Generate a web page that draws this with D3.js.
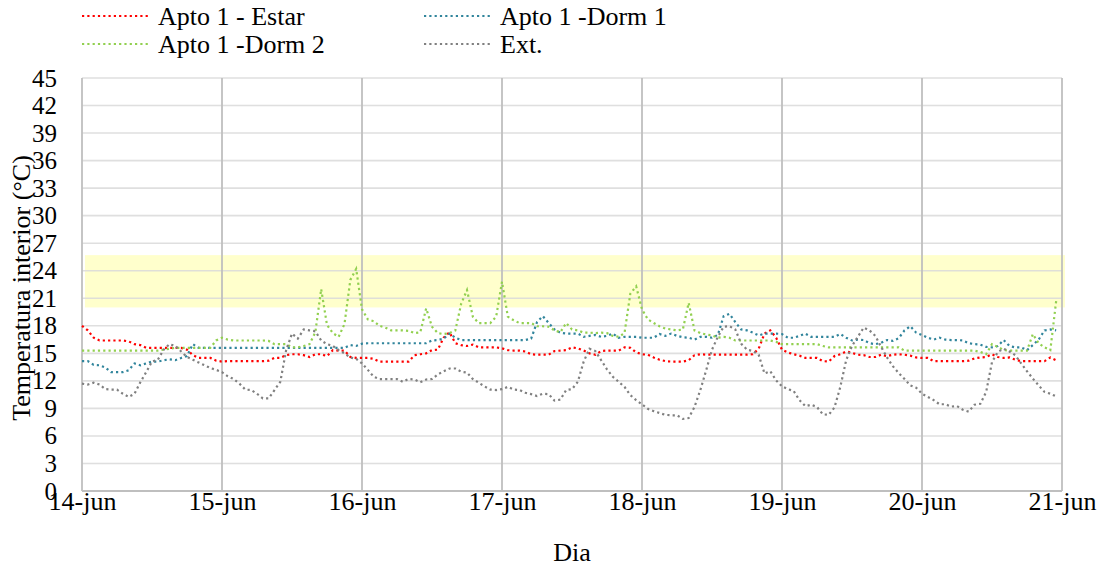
<!DOCTYPE html>
<html lang="es">
<head>
<meta charset="UTF-8">
<title>Temperatura interior - Apto 1</title>
<script src="https://d3js.org/d3.v7.min.js"></script>
<style>
    body { margin: 0; background: #fff; }
    svg { display: block; }
    text { font-family: "Liberation Serif", "Times New Roman", serif; fill: #000; }
</style>
</head>
<body>
<svg width="1101" height="567"></svg>
<script>
    // hourly readings, 14-jun 00:00 to 20-jun 23:00
    const estar = [
        18.0,17.5,16.7,16.4,16.4,16.4,16.4,16.4,16.3,16.0,15.9,15.6,15.6,15.6,15.6,15.6,15.6,15.6,15.4,14.8,14.5,14.5,14.5,14.2,
        14.1,14.15,14.15,14.15,14.15,14.15,14.15,14.15,14.2,14.5,14.5,14.8,14.9,14.9,14.8,14.6,14.9,14.9,14.7,15.35,15.3,15.3,14.6,14.5,
        14.5,14.5,14.4,14.1,14.1,14.1,14.1,14.1,14.1,14.8,14.9,15.0,15.35,15.4,16.7,17.3,16.1,15.9,15.8,15.95,15.65,15.65,15.65,15.65,
        15.55,15.35,15.3,15.3,15.2,14.9,14.85,14.85,14.85,15.25,15.3,15.35,15.65,15.55,15.3,15.0,14.85,15.25,15.3,15.3,15.3,15.65,15.6,15.1,
        14.9,14.85,14.55,14.3,14.15,14.1,14.1,14.1,14.25,14.8,14.9,14.85,14.85,14.85,14.85,14.85,14.85,14.85,14.85,14.9,15.5,17.15,17.5,16.7,
        15.4,15.1,14.9,14.75,14.5,14.5,14.5,14.15,14.1,14.7,14.9,15.2,15.05,14.85,14.8,14.6,14.6,14.85,14.7,14.85,14.9,14.85,14.75,14.55,
        14.5,14.5,14.15,14.15,14.15,14.15,14.15,14.15,14.2,14.45,14.55,14.6,14.9,14.6,14.5,14.55,14.3,14.15,14.15,14.15,14.15,14.15,14.55,14.25
    ];
    const dorm1 = [
        14.15,14.15,13.75,13.7,13.45,12.95,12.95,12.95,13.15,13.9,13.7,13.9,14.1,14.1,14.25,14.35,14.25,14.5,14.7,16.0,15.6,15.6,15.6,15.6,
        15.6,15.6,15.6,15.6,15.6,15.6,15.6,15.6,15.6,15.6,15.6,15.6,15.6,15.6,15.6,15.6,15.6,15.6,15.6,15.6,15.6,15.6,15.9,15.8,
        16.05,16.1,16.1,16.1,16.1,16.1,16.1,16.1,16.1,16.1,16.1,16.1,16.4,16.45,16.6,17.15,16.7,16.45,16.45,16.45,16.45,16.45,16.45,16.45,
        16.45,16.45,16.45,16.45,16.45,16.6,18.4,19.05,18.3,17.6,17.25,17.15,17.15,17.15,16.8,16.9,17.0,16.8,16.9,17.15,16.7,16.8,16.8,16.8,
        16.7,16.7,16.7,17.1,16.9,17.15,16.9,16.75,16.7,16.5,16.8,16.8,16.7,17.0,19.05,19.3,18.4,17.6,17.5,17.25,16.95,17.15,17.15,17.15,
        17.1,16.7,16.7,16.9,17.15,16.8,16.8,16.8,16.8,16.8,17.1,16.7,16.4,16.5,16.45,16.1,16.0,16.15,16.45,16.35,16.65,17.5,17.95,17.25,
        17.0,16.7,16.5,16.7,16.5,16.45,16.45,16.4,16.1,16.0,15.95,15.7,15.65,15.8,16.45,15.8,15.65,15.65,15.35,15.9,16.5,17.5,17.6,17.5
    ];
    const dorm2 = [
        15.3,15.3,15.3,15.3,15.3,15.3,15.3,15.3,15.3,15.3,15.3,15.3,15.3,15.3,15.4,15.5,15.6,15.6,15.6,15.6,15.6,15.6,15.6,16.4,
        16.7,16.5,16.4,16.4,16.4,16.4,16.4,16.4,16.35,16.0,16.0,16.0,15.65,15.65,15.8,16.0,17.3,22.0,18.1,17.2,16.8,18.2,23.0,24.2,
        19.8,18.7,18.5,18.0,17.8,17.5,17.5,17.5,17.45,17.2,17.3,19.9,17.9,17.2,17.1,17.2,17.5,20.4,21.9,19.0,18.3,18.3,18.3,19.0,
        22.8,19.0,18.6,18.3,18.3,18.3,17.95,17.95,17.9,17.5,17.3,18.3,17.6,17.5,17.25,17.25,17.2,17.25,17.2,16.9,16.8,17.2,21.5,22.3,
        19.8,18.7,18.3,17.95,17.7,17.6,17.5,17.6,20.5,17.5,17.2,17.05,16.95,16.7,16.8,16.7,16.4,16.4,16.4,16.4,16.4,16.4,16.4,16.25,
        16.0,16.0,16.0,16.0,16.0,16.0,16.0,15.8,15.65,15.65,15.65,15.65,15.65,15.65,15.65,15.65,15.65,15.65,15.65,15.65,15.65,15.3,15.3,15.3,
        15.3,15.3,15.3,15.3,15.3,15.3,15.3,15.3,15.3,15.3,15.15,14.9,16.0,15.7,15.35,15.3,15.3,15.3,15.3,17.1,16.1,15.65,15.35,20.7
    ];
    const ext = [
        11.7,11.6,11.8,11.6,11.1,11.05,11.05,10.6,10.25,10.6,11.85,12.95,14.1,14.3,15.4,16.0,15.8,15.2,14.6,14.3,14.0,13.7,13.4,13.2,
        12.95,12.5,12.2,11.7,11.05,11.0,10.6,10.1,10.1,11.0,11.9,15.35,17.15,16.6,17.6,17.5,17.4,16.4,16.0,15.8,15.35,15.0,14.55,14.4,
        13.9,13.2,12.45,12.2,12.2,12.2,12.2,11.9,12.2,12.15,11.85,12.15,12.2,12.7,13.05,13.35,13.35,13.0,12.9,12.2,11.8,11.4,11.05,11.0,
        11.1,11.35,11.05,11.0,10.7,10.55,10.35,10.6,10.55,9.85,9.95,11.0,11.1,11.9,14.1,15.5,15.25,14.25,13.25,12.45,11.9,11.35,10.45,9.9,
        9.45,8.95,8.7,8.5,8.3,8.25,8.25,7.85,7.95,9.15,11.0,13.15,15.4,16.8,17.9,17.95,17.6,16.05,15.4,15.25,14.85,12.8,13.05,12.05,
        11.4,11.1,10.9,9.9,9.25,9.4,9.15,8.35,8.3,9.1,11.35,14.25,15.8,16.8,17.8,17.5,16.9,15.7,14.55,13.6,12.85,12.2,11.5,11.25,
        10.6,10.25,9.9,9.45,9.45,9.2,9.25,8.85,8.65,9.4,9.5,10.8,14.05,15.15,15.5,15.2,14.8,13.9,13.05,12.25,11.5,10.8,10.6,10.3
    ];
    const comfortBand = [20, 25.7];
    const yTicks = d3.range(0, 46, 3);
    const startDay = new Date(Date.UTC(2023, 5, 14));
    const endDay = new Date(Date.UTC(2023, 5, 21));

    const series = [
        { name: "Apto 1 - Estar", values: estar, color: "#ff0000" },
        { name: "Apto 1 -Dorm 1", values: dorm1, color: "#31859c" },
        { name: "Apto 1 -Dorm 2", values: dorm2, color: "#92d050" },
        { name: "Ext.", values: ext, color: "#808080" }
    ];

    const svg = d3.select("svg");
    const margin = { left: 82, right: 39, top: 78, bottom: 76 };
    const width = 1101, height = 567;
    const fontSize = 26;

    const x = d3.scaleUtc()
        .domain([startDay, endDay])
        .range([margin.left, width - margin.right]);
    const y = d3.scaleLinear()
        .domain([0, 45])
        .range([height - margin.bottom, margin.top]);

    const hourAt = i => d3.utcHour.offset(startDay, i);

    // comfort band
    svg.append("rect")
        .attr("x", x(startDay) + 3)
        .attr("y", y(comfortBand[1]))
        .attr("width", x(endDay) - x(startDay))
        .attr("height", y(comfortBand[0]) - y(comfortBand[1]))
        .attr("fill", "#ffffcc");

    // horizontal grid
    svg.append("g")
        .selectAll("line")
        .data(yTicks.filter(d => d > 0))
        .enter().append("line")
        .attr("x1", x(startDay))
        .attr("x2", x(endDay))
        .attr("y1", d => y(d))
        .attr("y2", d => y(d))
        .attr("stroke", "#d9d9d9")
        .attr("stroke-opacity", 0.85)
        .attr("stroke-width", 1.6);

    // vertical grid (one per day)
    const days = d3.utcDay.range(startDay, d3.utcDay.offset(endDay, 1));
    svg.append("g")
        .selectAll("line")
        .data(days)
        .enter().append("line")
        .attr("x1", d => x(d))
        .attr("x2", d => x(d))
        .attr("y1", y(45))
        .attr("y2", y(0))
        .attr("stroke", "#bfbfbf")
        .attr("stroke-width", 1.8);

    // bottom axis line
    svg.append("line")
        .attr("x1", x(startDay))
        .attr("x2", x(endDay))
        .attr("y1", y(0))
        .attr("y2", y(0))
        .attr("stroke", "#bfbfbf")
        .attr("stroke-width", 1.8);

    // y tick labels
    const yAxis = d3.axisLeft(y).tickValues(yTicks).tickSize(0).tickPadding(25);
    svg.append("g")
        .attr("transform", `translate(${margin.left},0)`)
        .call(yAxis)
        .call(g => g.select(".domain").remove())
        .selectAll("text")
        .attr("font-size", 25)
        .attr("fill", "#000");

    // x tick labels
    const fmt = d3.utcFormat("%d");
    const xAxis = d3.axisBottom(x).tickValues(days).tickSize(0).tickPadding(1)
        .tickFormat(d => fmt(d) + "-jun");
    svg.append("g")
        .attr("transform", `translate(0,${y(0)})`)
        .call(xAxis)
        .call(g => g.select(".domain").remove())
        .selectAll("text")
        .attr("font-size", fontSize)
        .attr("fill", "#000");

    // lines
    const line = d3.line()
        .x((d, i) => x(hourAt(i)))
        .y(d => y(d));

    svg.append("g")
        .selectAll("path")
        .data(series)
        .enter().append("path")
        .attr("d", d => line(d.values))
        .attr("fill", "none")
        .attr("stroke", d => d.color)
        .attr("stroke-width", 2.2)
        .attr("stroke-dasharray", "2.2,3.1");

    // axis titles
    svg.append("text")
        .attr("x", (x(startDay) + x(endDay)) / 2)
        .attr("y", 561)
        .attr("text-anchor", "middle")
        .attr("font-size", fontSize)
        .text("Dia");

    svg.append("text")
        .attr("transform", "translate(21,288) rotate(-90)")
        .attr("text-anchor", "middle")
        .attr("dy", "0.35em")
        .attr("font-size", fontSize)
        .text("Temperatura interior (°C)");

    // legend, two columns
    const legend = svg.append("g")
        .selectAll("g")
        .data(series)
        .enter().append("g")
        .attr("transform", (d, i) => `translate(${i % 2 ? 424 : 82},${i < 2 ? 16 : 44})`);

    legend.append("line")
        .attr("x1", 0).attr("x2", 66)
        .attr("stroke", d => d.color)
        .attr("stroke-width", 2.2)
        .attr("stroke-dasharray", "2.2,3.1");

    legend.append("text")
        .attr("x", 76)
        .attr("dy", "0.35em")
        .attr("font-size", fontSize)
        .text(d => d.name);
</script>
</body>
</html>
